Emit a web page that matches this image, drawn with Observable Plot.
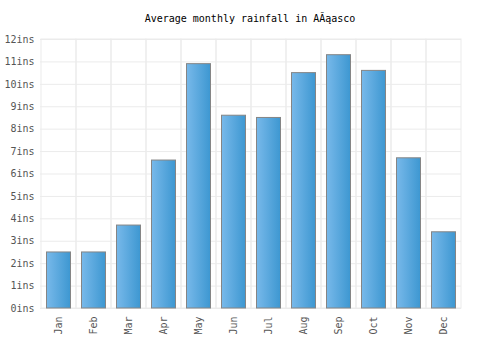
<!DOCTYPE html>
<html>
<head>
<meta charset="utf-8">
<script src="https://cdn.jsdelivr.net/npm/d3@7"></script>
<script src="https://cdn.jsdelivr.net/npm/@observablehq/plot@0.6"></script>
<style>
  body { margin: 0; background: #fff; }
  #title { height: 30px; padding-top: 13px; box-sizing: border-box; font: 10px "DejaVu Sans Mono", monospace; text-align: center; color: #000; line-height: 12px; }
  #chart svg { display: block; }
</style>
</head>
<body>
<div id="title">Average monthly rainfall in AĂąasco</div>
<div id="chart"></div>
<script>
const months = ["Jan","Feb","Mar","Apr","May","Jun","Jul","Aug","Sep","Oct","Nov","Dec"];
const rainfall = [2.5, 2.5, 3.7, 6.6, 10.9, 8.6, 8.5, 10.5, 11.3, 10.6, 6.7, 3.4];
const yTicks = [0,1,2,3,4,5,6,7,8,9,10,11,12];
const unit = "ins";

const data = months.map((m, i) => ({month: m, value: rainfall[i]}));

const chart = Plot.plot({
  width: 500,
  height: 320,
  marginTop: 9,
  marginBottom: 42,
  marginLeft: 40,
  marginRight: 39,
  style: {fontFamily: "'DejaVu Sans Mono', monospace", fontSize: "10px", color: "#555", background: "#fff"},
  x: {domain: months, padding: 0},
  y: {domain: [0, 12]},
  marks: [
    Plot.ruleY(yTicks, {stroke: "#ebebeb", strokeWidth: 1}),
    Plot.rect(months, {x: d => d, y1: 0, y2: 12, fill: "none", stroke: "#ebebeb", strokeWidth: 1}),
    Plot.barY(data, {x: "month", y: "value", fill: "url(#barGrad)", stroke: "#858585", strokeWidth: 1, insetLeft: 5.5, insetRight: 5.5}),
    Plot.axisY({ticks: yTicks, tickFormat: d => d + unit, tickSize: 0, tickPadding: 6, line: true, stroke: "#000", color: "#555", label: null}),
    Plot.axisX({tickRotate: -90, tickSize: 0, tickPadding: 8, line: true, stroke: "#000", color: "#555", label: null})
  ]
});

const defs = d3.select(chart).insert("defs", ":first-child");
const grad = defs.append("linearGradient").attr("id", "barGrad").attr("x1", "0%").attr("x2", "100%").attr("y1", "0%").attr("y2", "0%");
grad.append("stop").attr("offset", "0%").attr("stop-color", "#78b9ea");
grad.append("stop").attr("offset", "100%").attr("stop-color", "#3d97d1");

document.getElementById("chart").appendChild(chart);
</script>
</body>
</html>
